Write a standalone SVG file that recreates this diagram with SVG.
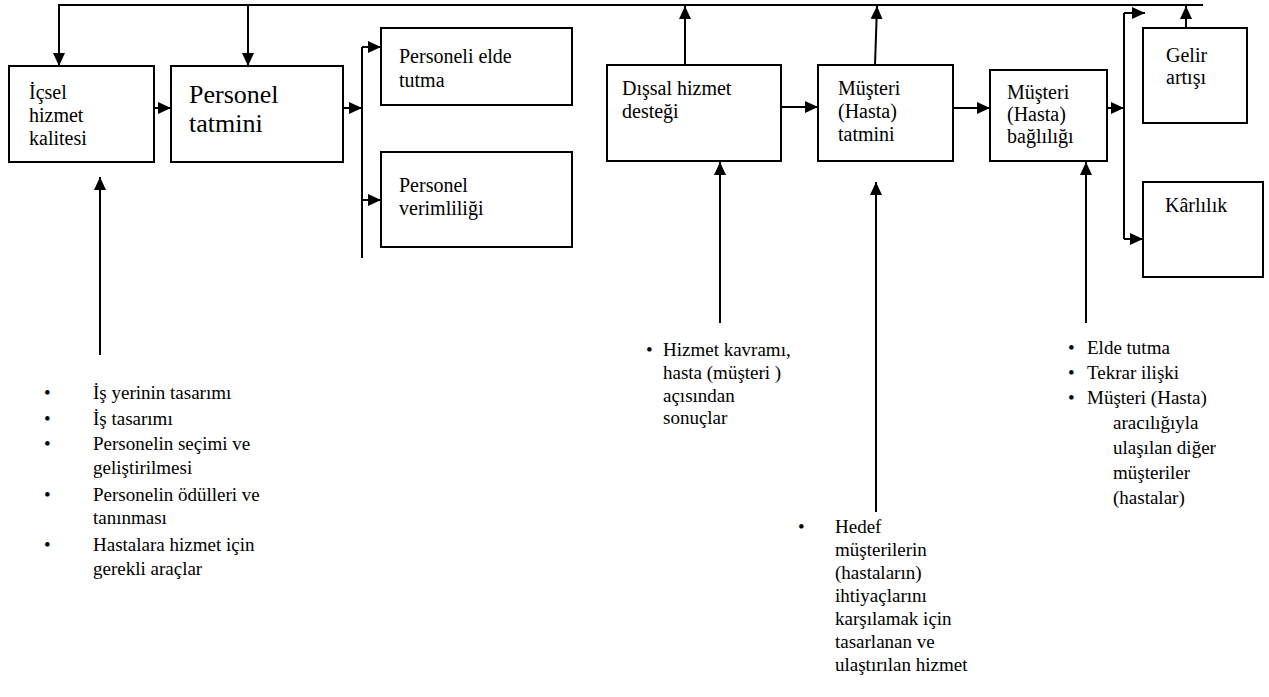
<svg xmlns="http://www.w3.org/2000/svg" width="1269" height="697" viewBox="0 0 1269 697">
<style>
.box{fill:#fff;stroke:#000;stroke-width:2}
.t{font-family:"Liberation Serif","Times New Roman",serif;font-size:20px;fill:#000}
.big{font-size:26px}
.l{font-family:"Liberation Serif","Times New Roman",serif;font-size:19px;fill:#000}
.c{stroke:#000;stroke-width:2;fill:none}
.a{stroke:#000;stroke-width:2;fill:none;marker-end:url(#ah)}
</style>
<defs>
<marker id="ah" markerUnits="userSpaceOnUse" markerWidth="14" markerHeight="12" refX="13" refY="6" orient="auto">
<path d="M0,0 L13,6 L0,12 z" fill="#000"/>
</marker>
</defs>
<g id="connectors">
<line class="c" x1="58" y1="5" x2="1203" y2="5"/>
<line class="a" x1="59" y1="5" x2="59" y2="66"/>
<line class="a" x1="248" y1="5" x2="248" y2="66"/>
<line class="a" x1="154" y1="108" x2="171" y2="108"/>
<line class="a" x1="343" y1="108" x2="362" y2="108"/>
<line class="c" x1="362" y1="47" x2="362" y2="258"/>
<line class="a" x1="362" y1="47" x2="381" y2="47"/>
<line class="a" x1="362" y1="200" x2="381" y2="200"/>
<line class="a" x1="685" y1="65" x2="685" y2="6"/>
<line class="a" x1="875" y1="65" x2="877" y2="6"/>
<line class="a" x1="781" y1="107" x2="818" y2="107"/>
<line class="a" x1="953" y1="108" x2="990" y2="108"/>
<line class="a" x1="1107" y1="108" x2="1124" y2="108"/>
<line class="c" x1="1124" y1="13" x2="1124" y2="239"/>
<line class="a" x1="1124" y1="13" x2="1145" y2="13"/>
<line class="a" x1="1124" y1="239" x2="1143" y2="239"/>
<line class="a" x1="1186" y1="28" x2="1186" y2="6"/>
<line class="a" x1="100" y1="355" x2="100" y2="177"/>
<line class="a" x1="720" y1="323" x2="720" y2="162"/>
<line class="a" x1="876" y1="512" x2="876" y2="182"/>
<line class="a" x1="1086" y1="323" x2="1086" y2="162"/>
</g>
<g id="n-icsel">
<rect class="box" x="9" y="66" width="145" height="96"/>
<text class="t" x="29" y="99">İçsel</text>
<text class="t" x="29" y="122">hizmet</text>
<text class="t" x="29" y="145">kalitesi</text>
</g>
<g id="n-personel-tatmini">
<rect class="box" x="171" y="66" width="172" height="96"/>
<text class="t big" x="189" y="103">Personel</text>
<text class="t big" x="189" y="132">tatmini</text>
</g>
<g id="n-elde-tutma">
<rect class="box" x="381" y="28" width="191" height="77"/>
<text class="t" x="399" y="63">Personeli elde</text>
<text class="t" x="399" y="87">tutma</text>
</g>
<g id="n-verimlilik">
<rect class="box" x="381" y="152" width="191" height="95"/>
<text class="t" x="399" y="192">Personel</text>
<text class="t" x="399" y="215">verimliliği</text>
</g>
<g id="n-dissal">
<rect class="box" x="607" y="65" width="174" height="96"/>
<text class="t" x="622" y="95">Dışsal hizmet</text>
<text class="t" x="622" y="118">desteği</text>
</g>
<g id="n-musteri-tatmini">
<rect class="box" x="818" y="65" width="135" height="96"/>
<text class="t" x="838" y="95">Müşteri</text>
<text class="t" x="838" y="118">(Hasta)</text>
<text class="t" x="838" y="141">tatmini</text>
</g>
<g id="n-baglilik">
<rect class="box" x="990" y="70" width="117" height="91"/>
<text class="t" x="1007" y="99">Müşteri</text>
<text class="t" x="1007" y="121">(Hasta)</text>
<text class="t" x="1007" y="143">bağlılığı</text>
</g>
<g id="n-gelir">
<rect class="box" x="1143" y="28" width="104" height="95"/>
<text class="t" x="1166" y="62">Gelir</text>
<text class="t" x="1166" y="84">artışı</text>
</g>
<g id="n-karlilik">
<rect class="box" x="1143" y="182" width="120" height="95"/>
<text class="t" x="1165" y="212">Kârlılık</text>
</g>
<g id="list-icsel">
<text class="l" x="44" y="399">•</text><text class="l" x="93" y="399">İş yerinin tasarımı</text>
<text class="l" x="44" y="425">•</text><text class="l" x="93" y="425">İş tasarımı</text>
<text class="l" x="44" y="450">•</text><text class="l" x="93" y="450">Personelin seçimi ve</text>
<text class="l" x="93" y="474">geliştirilmesi</text>
<text class="l" x="44" y="501">•</text><text class="l" x="93" y="501">Personelin ödülleri ve</text>
<text class="l" x="93" y="524">tanınması</text>
<text class="l" x="44" y="551">•</text><text class="l" x="93" y="551">Hastalara hizmet için</text>
<text class="l" x="93" y="575">gerekli araçlar</text>
</g>
<g id="list-dissal">
<text class="l" x="646" y="356">•</text>
<text class="l" x="663" y="356">Hizmet kavramı,</text>
<text class="l" x="663" y="379">hasta (müşteri )</text>
<text class="l" x="663" y="402">açısından</text>
<text class="l" x="663" y="424">sonuçlar</text>
</g>
<g id="list-tatmin">
<text class="l" x="798" y="533">•</text>
<text class="l" x="835" y="533">Hedef</text>
<text class="l" x="835" y="556">müşterilerin</text>
<text class="l" x="835" y="579">(hastaların)</text>
<text class="l" x="835" y="602">ihtiyaçlarını</text>
<text class="l" x="835" y="625">karşılamak için</text>
<text class="l" x="835" y="648">tasarlanan ve</text>
<text class="l" x="835" y="671">ulaştırılan hizmet</text>
</g>
<g id="list-baglilik">
<text class="l" x="1068" y="354">•</text><text class="l" x="1087" y="354">Elde tutma</text>
<text class="l" x="1068" y="379">•</text><text class="l" x="1087" y="379">Tekrar ilişki</text>
<text class="l" x="1068" y="404">•</text><text class="l" x="1087" y="404">Müşteri (Hasta)</text>
<text class="l" x="1113" y="429">aracılığıyla</text>
<text class="l" x="1113" y="454">ulaşılan diğer</text>
<text class="l" x="1113" y="479">müşteriler</text>
<text class="l" x="1113" y="504">(hastalar)</text>
</g>
</svg>
